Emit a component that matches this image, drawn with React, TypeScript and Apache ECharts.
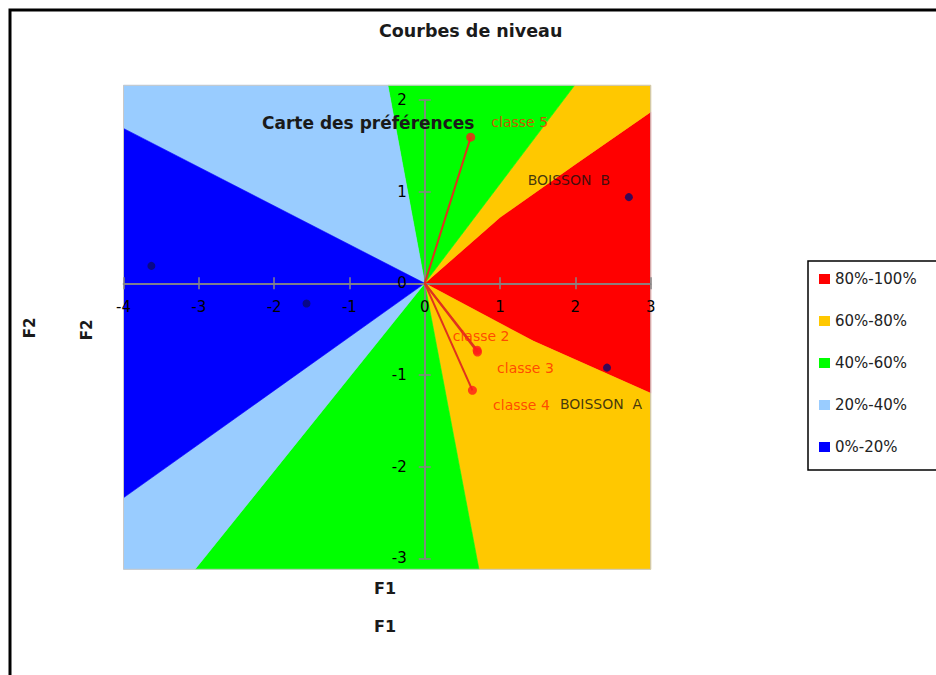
import React, { useEffect, useRef } from "react";
import * as echarts from "echarts";

// ---- Data ----
const F1_MIN = -4;
const F1_MAX = 3;
const F2_MIN = -3;
const F2_MAX = 2;

const zoneNames = ["80%-100%", "60%-80%", "40%-60%", "20%-40%", "0%-20%"];
const zoneColors = ["#ff0000", "#ffc800", "#00ff00", "#99ccff", "#0000ff"];

// contour zones (polygons in F1/F2 units)
const zone80to100 = [
  [[0, 0], [1.0, 0.72], [2.0, 1.3], [3, 1.87], [3, -1.2], [1.44, -0.63]],
];
const zone60to80 = [
  [[0, 0], [1.99, 2.16], [3, 2.16], [3, 1.87], [2.0, 1.3], [1.0, 0.72]],
  [[0, 0], [1.44, -0.63], [3, -1.2], [3, -3.12], [0.72, -3.12]],
];
const zone40to60 = [
  [[0, 0], [-0.49, 2.16], [1.99, 2.16]],
  [[0, 0], [0.72, -3.12], [-3.05, -3.12]],
];
const zone20to40 = [
  [[0, 0], [-4, 1.69], [-4, 2.16], [-0.49, 2.16]],
  [[0, 0], [-3.05, -3.12], [-4, -3.12], [-4, -2.34]],
];
const zone0to20 = [[[0, 0], [-4, -2.34], [-4, 1.69]]];
const mapCorners = [[-4, -3.12], [3, 2.16]];

// drinks
const drinkNames = ["", "", "BOISSON  B", "BOISSON  A"];
const drinkF1 = [-3.63, -1.57, 2.71, 2.42];
const drinkF2 = [0.19, -0.22, 0.94, -0.92];

// consumer classes
const classNames = ["classe 5", "classe 2", "classe 3", "classe 4"];
const classF1 = [0.61, 0.695, 0.70, 0.633];
const classF2 = [1.594, -0.73, -0.75, -1.167];

// label placement (style, not data)
const drinkLabelOffsets = [[0, 0], [0, 0], [-60, -17], [-6, 36]];
const classLabelOffsets = [[49, -15], [4, -14], [48, 16], [49, 15]];

const FONT = "DejaVu Sans";

// grid geometry
const GRID_LEFT = 123.5;
const GRID_TOP = 100;
const GRID_W = 527.2;
const GRID_H = 458.3;

export default function App() {
  const ref = useRef<HTMLDivElement>(null);

  useEffect(() => {
    const chart = echarts.init(ref.current as HTMLDivElement, null, { renderer: "svg" });
    const zones = [zone80to100, zone60to80, zone40to60, zone20to40, zone0to20];

    // where the zero lines sit inside the grid
    const zeroX = GRID_LEFT + ((0 - F1_MIN) / (F1_MAX - F1_MIN)) * GRID_W;
    const zeroY = GRID_TOP + ((F2_MAX - 0) / (F2_MAX - F2_MIN)) * GRID_H;

    const zoneSeries = zones.map((polys, zi) => ({
      type: "custom",
      name: zoneNames[zi],
      coordinateSystem: "cartesian2d",
      clip: false,
      silent: true,
      z: 1,
      itemStyle: { color: zoneColors[zi] },
      data: polys.map((_p, i) => [i, 0]),
      renderItem: (params: any, api: any) => {
        const pts = polys[params.dataIndex].map((pt) => api.coord(pt));
        return {
          type: "polygon",
          shape: { points: pts },
          style: { fill: zoneColors[zi], stroke: zoneColors[zi], lineWidth: 0.6 },
        };
      },
    }));

    const borderSeries = {
      type: "custom",
      coordinateSystem: "cartesian2d",
      clip: false,
      silent: true,
      z: 2,
      data: [[0, 0]],
      renderItem: (_params: any, api: any) => {
        const a = api.coord(mapCorners[0]);
        const b = api.coord(mapCorners[1]);
        return {
          type: "rect",
          shape: { x: a[0], y: b[1], width: b[0] - a[0], height: a[1] - b[1] },
          style: { fill: "none", stroke: "#c8c8c8", lineWidth: 1 },
        };
      },
    };

    const vectorSeries = {
      type: "custom",
      coordinateSystem: "cartesian2d",
      clip: false,
      silent: true,
      z: 4,
      data: classF1.map((x, i) => [x, classF2[i]]),
      renderItem: (_params: any, api: any) => {
        const o = api.coord([0, 0]);
        const p = api.coord([api.value(0), api.value(1)]);
        return {
          type: "line",
          shape: { x1: o[0], y1: o[1], x2: p[0], y2: p[1] },
          style: { stroke: "#e0321e", lineWidth: 2 },
        };
      },
    };

    const classSeries = {
      type: "scatter",
      z: 5,
      symbolSize: 9,
      itemStyle: { color: "#ff1a1a" },
      data: classF1.map((x, i) => ({
        value: [x, classF2[i]],
        name: classNames[i],
        label: { offset: classLabelOffsets[i] },
      })),
      label: {
        show: true,
        position: "inside",
        formatter: (p: any) => p.name,
        color: "#ff2a00",
        fontFamily: FONT,
        fontSize: 14,
      },
    };

    const drinkSeries = {
      type: "scatter",
      z: 5,
      symbolSize: 8,
      itemStyle: { color: "#0a0a6a" },
      data: drinkF1.map((x, i) => ({
        value: [x, drinkF2[i]],
        name: drinkNames[i],
        label: { offset: drinkLabelOffsets[i] },
      })),
      label: {
        show: true,
        position: "inside",
        formatter: (p: any) => p.name,
        color: "#111",
        fontFamily: FONT,
        fontSize: 14,
      },
    };

    const axisLine = { onZero: false, lineStyle: { color: "#868686", width: 1.5 } };
    const tick = { show: true, length: 6, lineStyle: { color: "#868686", width: 1.5 } };

    chart.setOption({
      animation: false,
      backgroundColor: "#ffffff",
      title: [
        {
          text: "Courbes de niveau",
          left: 379,
          top: 22,
          padding: 0,
          textStyle: { fontFamily: FONT, fontSize: 17.5, fontWeight: "bold", color: "#1a1a1a" },
        },
        {
          text: "Carte des préférences",
          left: 262,
          top: 114,
          padding: 0,
          textStyle: { fontFamily: FONT, fontSize: 17, fontWeight: "bold", color: "#1a1a1a" },
        },
      ],
      legend: {
        orient: "vertical",
        left: 808,
        top: 261,
        data: zoneNames,
        icon: "rect",
        itemWidth: 11,
        itemHeight: 10,
        itemGap: 26,
        padding: [10, 40, 15, 11],
        borderColor: "#000",
        borderWidth: 1.5,
        selectedMode: false,
        textStyle: { fontFamily: FONT, fontSize: 15, color: "#222", lineHeight: 16 },
      },
      grid: {
        left: GRID_LEFT,
        top: GRID_TOP,
        width: GRID_W,
        height: GRID_H,
        containLabel: false,
        outerBoundsMode: "none",
      },
      xAxis: [
        {
          type: "value",
          min: F1_MIN,
          max: F1_MAX,
          interval: 1,
          position: "bottom",
          offset: -(GRID_TOP + GRID_H - zeroY),
          z: 3,
          axisLine,
          axisTick: tick,
          splitLine: { show: false },
          axisLabel: { color: "#000", fontFamily: FONT, fontSize: 15, margin: 16 },
        },
        {
          type: "value",
          min: F1_MIN,
          max: F1_MAX,
          interval: 1,
          position: "top",
          offset: -(zeroY - GRID_TOP),
          z: 3,
          axisLine,
          axisTick: tick,
          splitLine: { show: false },
          axisLabel: { show: false },
        },
      ],
      yAxis: [
        {
          type: "value",
          min: F2_MIN,
          max: F2_MAX,
          interval: 1,
          position: "left",
          offset: -(zeroX - GRID_LEFT),
          z: 3,
          axisLine,
          axisTick: tick,
          splitLine: { show: false },
          axisLabel: { color: "#000", fontFamily: FONT, fontSize: 15, margin: 18 },
        },
        {
          type: "value",
          min: F2_MIN,
          max: F2_MAX,
          interval: 1,
          position: "right",
          offset: -(GRID_LEFT + GRID_W - zeroX),
          z: 3,
          axisLine,
          axisTick: tick,
          splitLine: { show: false },
          axisLabel: { show: false },
        },
      ],
      graphic: [
        {
          type: "rect",
          silent: true,
          z: 0,
          shape: { x: 10, y: 10, width: 940, height: 680 },
          style: { fill: "none", stroke: "#000", lineWidth: 3 },
        },
        {
          type: "text",
          x: 385,
          y: 588,
          style: { text: "F1", align: "center", verticalAlign: "middle", fontFamily: FONT, fontSize: 16, fontWeight: "bold", fill: "#1a1a1a" },
        },
        {
          type: "text",
          x: 385,
          y: 626,
          style: { text: "F1", align: "center", verticalAlign: "middle", fontFamily: FONT, fontSize: 16, fontWeight: "bold", fill: "#1a1a1a" },
        },
        {
          type: "text",
          x: 30,
          y: 328,
          rotation: Math.PI / 2,
          style: { text: "F2", align: "center", verticalAlign: "middle", fontFamily: FONT, fontSize: 15, fontWeight: "bold", fill: "#1a1a1a" },
        },
        {
          type: "text",
          x: 87,
          y: 330,
          rotation: Math.PI / 2,
          style: { text: "F2", align: "center", verticalAlign: "middle", fontFamily: FONT, fontSize: 15, fontWeight: "bold", fill: "#1a1a1a" },
        },
      ],
      series: [...zoneSeries, borderSeries, vectorSeries, drinkSeries, classSeries],
    });

    return () => chart.dispose();
  }, []);

  return (
    <div
      ref={ref}
      style={{ position: "fixed", left: 0, top: 0, width: 936, height: 675, background: "#fff" }}
    />
  );
}
